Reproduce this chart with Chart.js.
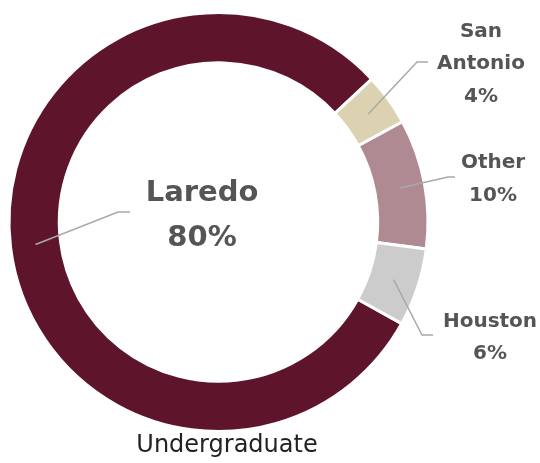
<!DOCTYPE html>
<html>
<head>
<meta charset="utf-8">
<script src="https://cdn.jsdelivr.net/npm/chart.js@4"></script>
<style>
  body { margin: 0; background: #fff; }
  canvas { display: block; }
</style>
</head>
<body>
<canvas id="donut" width="540" height="463"></canvas>
<script>
// data
const cities = ['Laredo', 'San Antonio', 'Other', 'Houston'];
const shares = [80, 4, 10, 6];
const colours = ['#5e152b', '#dcd2b2', '#b08a93', '#cccccc'];
const title = 'Undergraduate';

// where each callout goes: elbow, end of line, text lines
const callouts = [
    { elbow: [118, 212], end: [130, 212], x: 202, lines: [['Laredo', 193], ['80%', 238]], size: 29 },
    { elbow: [417, 62], end: [428, 62], x: 481, lines: [['San', 32], ['Antonio', 64], ['4%', 97]], size: 20 },
    { elbow: [448, 177], end: [455, 177], x: 493, lines: [['Other', 163], ['10%', 196]], size: 20 },
    { elbow: [422, 335], end: [433, 335], x: 490, lines: [['Houston', 322], ['6%', 354]], size: 20 }
];

const calloutPlugin = {
    id: 'callouts',
    afterDatasetsDraw(chart) {
        const ctx = chart.ctx;
        const arcs = chart.getDatasetMeta(0).data;
        ctx.save();
        arcs.forEach((arc, i) => {
            const c = callouts[i];
            const p = arc.getProps(['x', 'y', 'startAngle', 'endAngle', 'innerRadius', 'outerRadius'], true);
            const mid = (p.startAngle + p.endAngle) / 2;
            const r = (p.innerRadius + p.outerRadius) / 2;
            ctx.strokeStyle = '#a9a9a9';
            ctx.lineWidth = 1.5;
            ctx.beginPath();
            ctx.moveTo(p.x + Math.cos(mid) * r, p.y + Math.sin(mid) * r);
            ctx.lineTo(c.elbow[0], c.elbow[1]);
            ctx.lineTo(c.end[0], c.end[1]);
            ctx.stroke();

            ctx.fillStyle = '#555555';
            ctx.font = 'bold ' + c.size + 'px "DejaVu Sans"';
            ctx.textAlign = 'center';
            ctx.textBaseline = 'middle';
            c.lines.forEach((ln) => ctx.fillText(ln[0], c.x, ln[1]));
        });

        ctx.fillStyle = '#222222';
        ctx.font = '24px "DejaVu Sans"';
        ctx.textAlign = 'center';
        ctx.textBaseline = 'middle';
        ctx.fillText(title, 227, 446);
        ctx.restore();
    }
};

new Chart(document.getElementById('donut'), {
    type: 'doughnut',
    data: {
        labels: cities,
        datasets: [{
            data: shares,
            backgroundColor: colours,
            borderColor: '#ffffff',
            borderWidth: 3
        }]
    },
    options: {
        responsive: false,
        animation: false,
        rotation: 119,
        cutout: '76%',
        layout: { padding: { left: 7, right: 110, top: 11, bottom: 30 } },
        plugins: {
            legend: { display: false },
            tooltip: { enabled: false }
        }
    },
    plugins: [calloutPlugin]
});
</script>
</body>
</html>
